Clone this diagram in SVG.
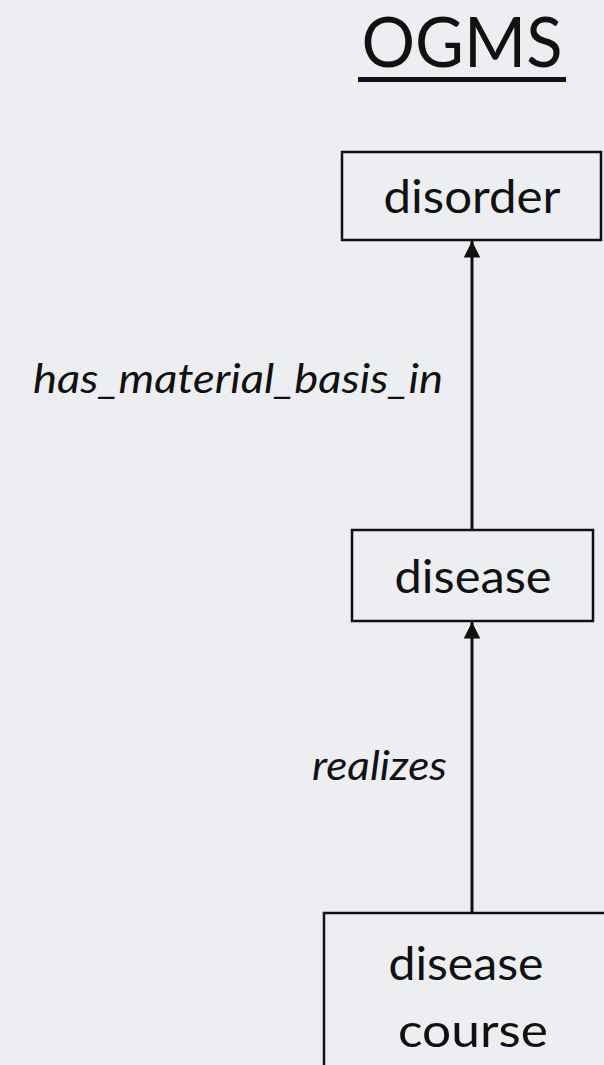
<svg xmlns="http://www.w3.org/2000/svg" width="604" height="1065" viewBox="0 0 604 1065">
<style>
.box{fill:none;stroke:#111;stroke-width:2.5}
.t{font-family:Lato,"Liberation Sans",sans-serif;fill:#111;text-anchor:middle}
.lbl{font-family:Lato,"Liberation Sans",sans-serif;font-style:italic;fill:#111;text-anchor:end;font-size:40px}
.edge{stroke:#111;stroke-width:3;fill:none}
</style>
<defs>
<marker id="arr" viewBox="0 0 10 10" refX="10" refY="5" markerWidth="6" markerHeight="5.5" markerUnits="strokeWidth" orient="auto">
<path d="M0,0 L10,5 L0,10 z" fill="#111"/>
</marker>
</defs>
<rect width="604" height="1065" fill="#eceef1"/>
<g id="title">
<text class="t" x="462" y="67" font-size="70" textLength="201" lengthAdjust="spacingAndGlyphs">OGMS</text>
<rect x="358" y="77" width="208" height="5" fill="#111"/>
</g>
<g id="disorder">
<rect class="box" x="342" y="152" width="259" height="88"/>
<text class="t" x="472" y="213" font-size="46" textLength="177" lengthAdjust="spacingAndGlyphs">disorder</text>
</g>
<g id="disease">
<rect class="box" x="352" y="530" width="241" height="91"/>
<text class="t" x="473" y="593" font-size="46" textLength="157" lengthAdjust="spacingAndGlyphs">disease</text>
</g>
<g id="disease_course">
<rect class="box" x="324" y="913" width="300" height="200"/>
<text class="t" x="466" y="980" font-size="46" textLength="155" lengthAdjust="spacingAndGlyphs">disease</text>
<text class="t" x="473" y="1047" font-size="46" textLength="150" lengthAdjust="spacingAndGlyphs">course</text>
</g>
<g id="connectors">
<line class="edge" x1="472" y1="530" x2="472" y2="241" marker-end="url(#arr)"/>
<line class="edge" x1="472" y1="913" x2="472" y2="622" marker-end="url(#arr)"/>
<text class="lbl" x="443" y="393" textLength="410" lengthAdjust="spacingAndGlyphs">has_material_basis_in</text>
<text class="lbl" x="447" y="780" textLength="135" lengthAdjust="spacingAndGlyphs">realizes</text>
</g>
</svg>
